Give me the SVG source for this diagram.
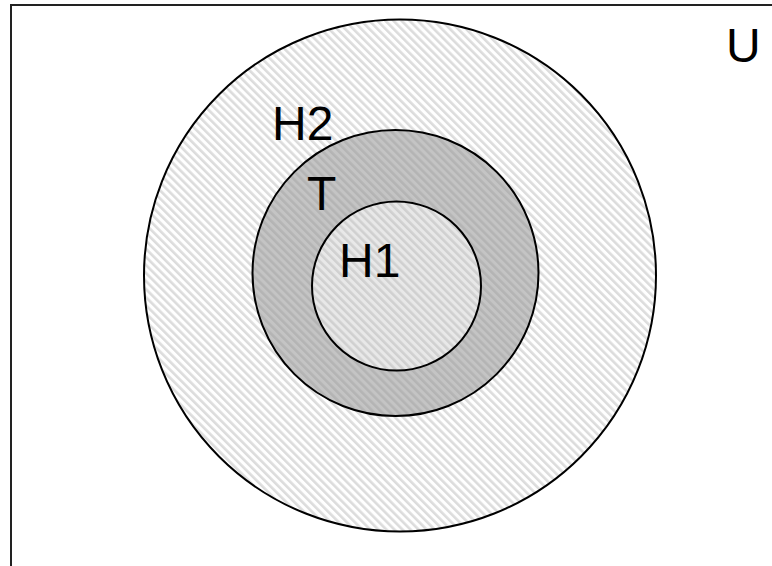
<svg xmlns="http://www.w3.org/2000/svg" width="772" height="566" viewBox="0 0 772 566">
<style>
.ring{stroke:#000;stroke-width:2}
.lbl{font-family:"Liberation Sans",Arial,sans-serif;font-size:48px;fill:#000}
</style>
<defs>
<pattern id="hatchLight" patternUnits="userSpaceOnUse" width="5.7" height="5.7" patternTransform="rotate(-45)">
<rect width="5.7" height="5.7" fill="#ffffff"/>
<rect width="2.6" height="5.7" fill="#dcdcdc"/>
</pattern>
<pattern id="hatchMid" patternUnits="userSpaceOnUse" width="5.7" height="5.7" patternTransform="rotate(-45)">
<rect width="5.7" height="5.7" fill="#e8e8e8"/>
<rect width="2.6" height="5.7" fill="#d0d0d0"/>
</pattern>
<pattern id="hatchDark" patternUnits="userSpaceOnUse" width="5.7" height="5.7" patternTransform="rotate(-45)">
<rect width="5.7" height="5.7" fill="#c4c4c4"/>
<rect width="2.6" height="5.7" fill="#b4b4b4"/>
</pattern>
</defs>
<rect width="772" height="566" fill="#fff"/>
<g id="U">
<rect x="11" y="5" width="800" height="600" fill="none" stroke="#222" stroke-width="2"/>
<text class="lbl" x="726" y="62">U</text>
</g>
<g id="H2">
<circle class="ring" cx="400" cy="275.5" r="256" fill="url(#hatchLight)"/>
<text class="lbl" x="272" y="140">H2</text>
</g>
<g id="T">
<circle class="ring" cx="395.5" cy="273" r="143" fill="url(#hatchDark)"/>
<text class="lbl" x="307" y="210">T</text>
</g>
<g id="H1">
<circle class="ring" cx="396.5" cy="286" r="84.5" fill="url(#hatchMid)"/>
<text class="lbl" x="339" y="277">H1</text>
</g>
<g id="connectors"/>
</svg>
